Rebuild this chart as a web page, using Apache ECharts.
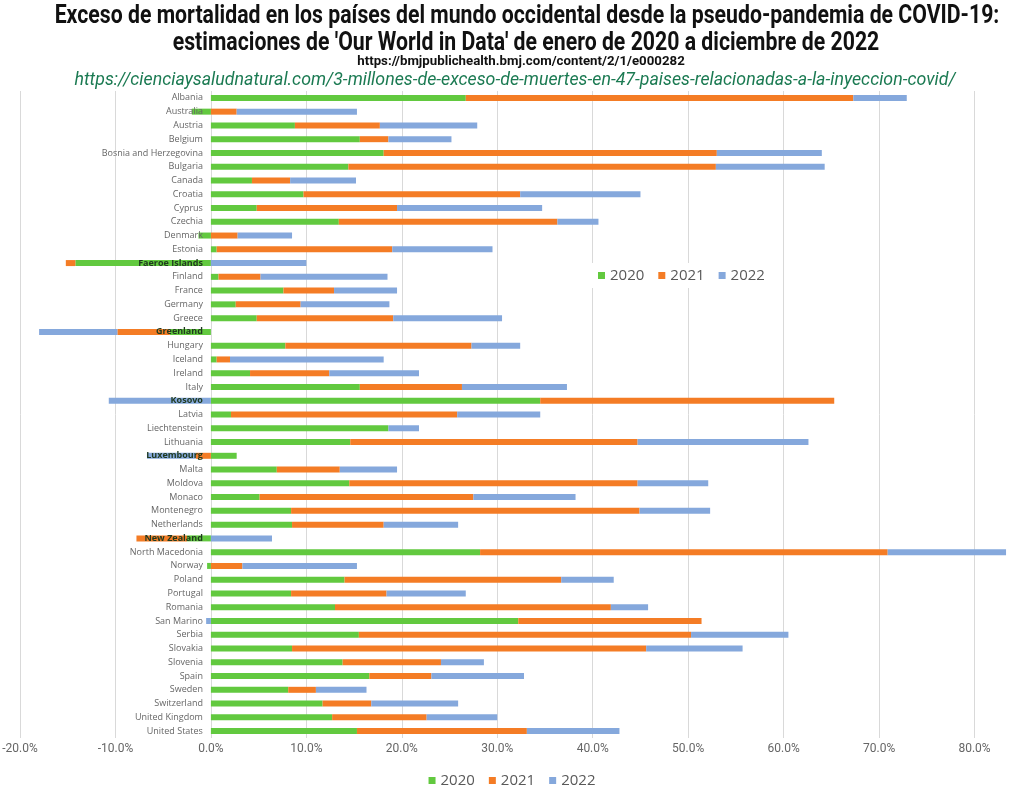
<!DOCTYPE html>
<html>
<head>
<meta charset="UTF-8">
<title>Exceso de mortalidad</title>
<script src="https://cdn.jsdelivr.net/npm/echarts@6/dist/echarts.min.js"></script>
<style>
  html, body { margin: 0; padding: 0; background: #fff; }
  #main { width: 1024px; height: 792px; }
</style>
</head>
<body>
<div id="main"></div>
<script type="text/javascript">
// paises, de arriba abajo
var countries = ['Albania', 'Australia', 'Austria', 'Belgium', 'Bosnia and Herzegovina', 'Bulgaria',
  'Canada', 'Croatia', 'Cyprus', 'Czechia', 'Denmark', 'Estonia', 'Faeroe Islands', 'Finland',
  'France', 'Germany', 'Greece', 'Greenland', 'Hungary', 'Iceland', 'Ireland', 'Italy', 'Kosovo',
  'Latvia', 'Liechtenstein', 'Lithuania', 'Luxembourg', 'Malta', 'Moldova', 'Monaco', 'Montenegro',
  'Netherlands', 'New Zealand', 'North Macedonia', 'Norway', 'Poland', 'Portugal', 'Romania',
  'San Marino', 'Serbia', 'Slovakia', 'Slovenia', 'Spain', 'Sweden', 'Switzerland',
  'United Kingdom', 'United States'];

// exceso de mortalidad por año, en %
var v2020 = [26.7, -2.0, 8.8, 15.6, 18.1, 14.4, 4.3, 9.7, 4.8, 13.4, -1.3, 0.6, -14.2, 0.8,
  7.6, 2.6, 4.8, -4.3, 7.8, 0.6, 4.1, 15.6, 34.5, 2.1, 18.6, 14.6, 2.7, 6.9, 14.5, 5.1, 8.4,
  8.5, -2.5, 28.2, -0.4, 14.0, 8.4, 13.0, 32.2, 15.5, 8.5, 13.8, 16.6, 8.1, 11.7, 12.7, 15.3];
var v2021 = [40.6, 2.7, 8.9, 3.0, 34.9, 38.5, 4.0, 22.7, 14.7, 22.9, 2.8, 18.4, -1.0, 4.4,
  5.3, 6.8, 14.3, -5.5, 19.5, 1.4, 8.3, 10.7, 30.8, 23.7, 0, 30.1, -1.6, 6.6, 30.2, 22.4, 36.5,
  9.6, -5.3, 42.7, 3.3, 22.7, 10.0, 28.9, 19.2, 34.8, 37.1, 10.3, 6.5, 2.9, 5.1, 9.9, 17.8];
var v2022 = [5.6, 12.6, 10.2, 6.6, 11.0, 11.4, 6.9, 12.6, 15.2, 4.3, 5.7, 10.5, 10.0, 13.3,
  6.6, 9.3, 11.4, -8.2, 5.1, 16.1, 9.4, 11.0, -10.7, 8.7, 3.2, 17.9, -5.1, 6.0, 7.4, 10.7, 7.4,
  7.8, 6.4, 12.4, 12.0, 5.5, 8.3, 3.9, -0.5, 10.2, 10.1, 4.5, 9.7, 5.3, 9.1, 7.4, 9.7];

var years = ['2020', '2021', '2022'];
var colors = ['#62c93f', '#f47c25', '#85a8dc'];

// eje x
var xMin = -20, xMax = 83.4, xStep = 10;
var gridLeft = 20, gridRight = 17, chartW = 1024;

var titleLine1 = "Exceso de mortalidad en los países del mundo occidental desde la pseudo-pandemia de COVID-19:";
var titleLine2 = "estimaciones de 'Our World in Data' de enero de 2020 a diciembre de 2022";
var srcUrl = 'https://bmjpublichealth.bmj.com/content/2/1/e000282';
var webUrl = 'https://cienciaysaludnatural.com/3-millones-de-exceso-de-muertes-en-47-paises-relacionadas-a-la-inyeccion-covid/';

// filas con barras negativas largas: la etiqueta queda encima de la barra
function negSum(i) {
  var s = 0;
  [v2020[i], v2021[i], v2022[i]].forEach(function (v) { if (v < 0) s += v; });
  return s;
}

// el eje de categorias va sobre el 0 del eje x
var plotW = chartW - gridLeft - gridRight;
var zeroOffset = -(0 - xMin) / (xMax - xMin) * plotW;

var myChart = echarts.init(document.getElementById('main'));

var legendBase = {
  data: years,
  icon: 'rect',
  itemWidth: 7,
  itemHeight: 7,
  itemGap: 14,
  textStyle: { color: '#595959', fontSize: 15, fontFamily: 'Open Sans' }
};

var option = {
  animation: false,
  backgroundColor: '#fff',
  color: colors,
  graphic: [
    {
      type: 'text', x: 527, y: 17, scaleX: 0.85, z: 20,
      style: { text: titleLine1, fontFamily: 'Roboto', fontWeight: 'bold', fontSize: 25,
        fill: '#111', align: 'center', verticalAlign: 'middle' }
    },
    {
      type: 'text', x: 526, y: 44, scaleX: 0.85, z: 20,
      style: { text: titleLine2, fontFamily: 'Roboto', fontWeight: 'bold', fontSize: 25,
        fill: '#111', align: 'center', verticalAlign: 'middle' }
    },
    {
      type: 'text', x: 521, y: 62, scaleX: 1.02, z: 20,
      style: { text: srcUrl, fontFamily: 'Roboto', fontWeight: 'bold', fontSize: 13,
        fill: '#111', align: 'center', verticalAlign: 'middle' }
    },
    {
      type: 'text', x: 515, y: 80, scaleX: 0.935, z: 20,
      style: { text: webUrl, fontFamily: 'Roboto', fontStyle: 'italic', fontSize: 19,
        fill: '#1b7a52', align: 'center', verticalAlign: 'middle' }
    }
  ],
  legend: [
    Object.assign({}, legendBase, {
      left: 590, top: 263, padding: [5, 8], backgroundColor: '#fff', z: 10
    }),
    Object.assign({}, legendBase, {
      left: 'center', top: 773, padding: 0
    })
  ],
  grid: { left: gridLeft, right: gridRight, top: 91, bottom: 54, containLabel: false, outerBoundsMode: 'none' },
  xAxis: {
    type: 'value',
    min: xMin,
    max: xMax,
    interval: xStep,
    axisLine: { show: false },
    axisTick: { show: false },
    splitLine: { show: true, showMaxLine: false, lineStyle: { color: '#d9d9d9', width: 1 } },
    axisLabel: {
      color: '#666',
      fontSize: 12,
      fontFamily: 'Roboto',
      margin: 5,
      showMaxLabel: false,
      formatter: function (v) { return v.toFixed(1) + '%'; }
    }
  },
  yAxis: {
    type: 'category',
    data: countries,
    inverse: true,
    position: 'left',
    offset: zeroOffset,
    z: 5,
    axisLine: { show: false, onZero: false },
    axisTick: { show: false },
    splitLine: { show: false },
    axisLabel: {
      interval: 0,
      margin: 8,
      color: '#666',
      fontSize: 9,
      fontFamily: 'Open Sans',
      formatter: function (name) {
        var i = countries.indexOf(name);
        return negSum(i) < -3 ? '{neg|' + name + '}' : name;
      },
      rich: {
        neg: { color: '#1f3a1f', fontWeight: 'bold', fontSize: 9, fontFamily: 'Open Sans' }
      }
    }
  },
  series: [
    { name: '2020', type: 'bar', stack: 'total', barWidth: 6, data: v2020 },
    { name: '2021', type: 'bar', stack: 'total', barWidth: 6, data: v2021 },
    { name: '2022', type: 'bar', stack: 'total', barWidth: 6, data: v2022 }
  ]
};

myChart.setOption(option);
</script>
</body>
</html>
